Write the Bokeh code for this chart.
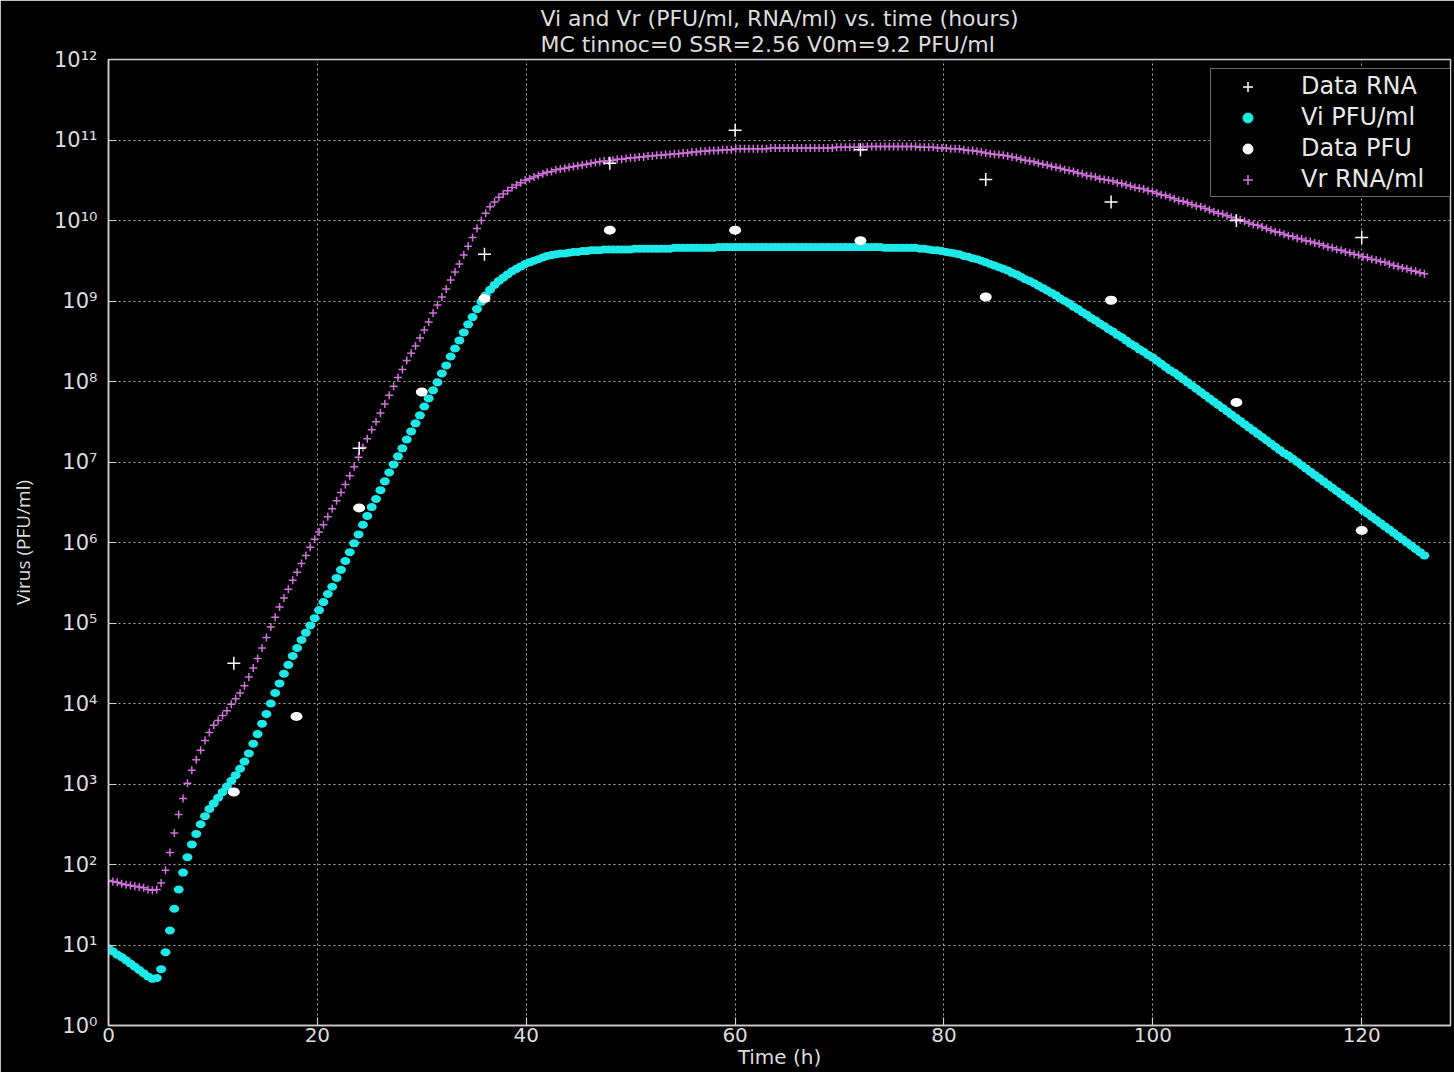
import numpy as np
from bokeh.plotting import figure
from bokeh.models import (Range1d, FixedTicker, CustomJSTickFormatter, Legend,
                          LegendItem)
from bokeh.embed import file_html
from bokeh.resources import INLINE

# ---------------- data ----------------
TITLE = "Vi and Vr (PFU/ml, RNA/ml) vs. time (hours)\nMC tinnoc=0 SSR=2.56 V0m=9.2 PFU/ml"
X_LABEL = "Time (h)"
Y_LABEL = "Virus (PFU/ml)"
X_TICKS = [0, 20, 40, 60, 80, 100, 120]
Y_TICKS = [1e0, 1e1, 1e2, 1e3, 1e4, 1e5, 1e6, 1e7, 1e8, 1e9, 1e10, 1e11, 1e12]

# model output, sampled on an even time grid from 0 to 126 h (values are log10)
T_START, T_END = 0.0, 126.0

VI_LOG10 = [
    0.96, 0.92, 0.88, 0.85, 0.81, 0.77, 0.73, 0.69, 0.65, 0.61, 0.58,
    0.59, 0.70, 0.91, 1.18, 1.45, 1.69, 1.90, 2.09, 2.25, 2.38, 2.50, 2.60, 2.69,
    2.76, 2.83, 2.90, 2.97, 3.04, 3.11, 3.19, 3.28, 3.38, 3.50, 3.62, 3.75, 3.87, 4.00,
    4.13, 4.25, 4.37, 4.48, 4.59, 4.69, 4.79, 4.88, 4.97, 5.06, 5.16, 5.26, 5.36, 5.45,
    5.56, 5.66,
    5.77, 5.88, 5.99, 6.10, 6.22, 6.33, 6.44, 6.54, 6.65, 6.76, 6.87, 6.97, 7.07, 7.17,
    7.28, 7.38, 7.48, 7.58, 7.69, 7.79, 7.89, 7.99, 8.10, 8.20, 8.31, 8.41, 8.51, 8.61,
    8.71, 8.80, 8.90, 8.99, 9.07, 9.14, 9.20, 9.25, 9.29, 9.33, 9.37, 9.40, 9.43, 9.46,
    9.48, 9.50, 9.52, 9.54, 9.56, 9.57, 9.58, 9.59, 9.59, 9.60, 9.61, 9.61, 9.62, 9.62,
    9.63, 9.63, 9.63, 9.64,
    9.64, 9.64, 9.64, 9.64, 9.64, 9.64,
    9.65, 9.65, 9.65, 9.65, 9.65, 9.65, 9.65, 9.65, 9.65,
    9.66, 9.66, 9.66, 9.66, 9.66, 9.66, 9.66, 9.66, 9.66, 9.66,
    9.67, 9.67, 9.67, 9.67, 9.67, 9.67, 9.67, 9.67, 9.67, 9.67,
    9.67, 9.67, 9.67, 9.67, 9.67, 9.67, 9.67, 9.67, 9.67, 9.67,
    9.67, 9.67, 9.67, 9.67, 9.67, 9.67, 9.67, 9.67, 9.67, 9.67,
    9.67, 9.67, 9.67, 9.67, 9.67, 9.67, 9.67, 9.67,
    9.66, 9.66, 9.66, 9.66, 9.66, 9.66, 9.66, 9.66,
    9.65, 9.65, 9.64, 9.63, 9.63, 9.62, 9.61, 9.60, 9.59, 9.58, 9.56, 9.55, 9.53, 9.52,
    9.50, 9.48, 9.46, 9.44, 9.42, 9.40, 9.38, 9.35, 9.33, 9.30, 9.27, 9.25, 9.22, 9.19,
    9.16, 9.13, 9.10, 9.07, 9.03, 9.00, 8.97, 8.93, 8.90, 8.86, 8.83, 8.79, 8.76, 8.72,
    8.69, 8.65, 8.62, 8.58, 8.55, 8.51, 8.47, 8.44, 8.40, 8.37, 8.33, 8.30,
    8.26, 8.22, 8.18, 8.14, 8.11, 8.07, 8.03, 7.99, 7.95, 7.91, 7.87, 7.83, 7.79, 7.75,
    7.71, 7.67, 7.63, 7.59, 7.55, 7.51, 7.47, 7.43, 7.39, 7.35, 7.31, 7.27, 7.23, 7.19,
    7.15, 7.11, 7.08, 7.04, 7.00, 6.96, 6.92, 6.88, 6.84, 6.80, 6.76, 6.72, 6.68, 6.64,
    6.60, 6.56, 6.52, 6.48, 6.44, 6.40, 6.36, 6.32, 6.28, 6.24, 6.20, 6.16, 6.12, 6.08,
    6.04, 6.00, 5.96, 5.92, 5.88, 5.84,
]

VR_LOG10 = [
    1.80, 1.79, 1.78, 1.76, 1.75, 1.74, 1.73, 1.72, 1.71, 1.69, 1.68,
    1.69, 1.77, 1.93, 2.15, 2.39, 2.62, 2.82, 3.01, 3.17, 3.30, 3.42, 3.54, 3.64,
    3.73, 3.79, 3.85, 3.91, 3.99, 4.06, 4.13, 4.22, 4.33, 4.44, 4.56, 4.69, 4.82, 4.95,
    5.07, 5.20, 5.31, 5.42, 5.53, 5.63, 5.74, 5.84, 5.94, 6.04, 6.13, 6.22, 6.32, 6.42,
    6.52, 6.62,
    6.72, 6.83, 6.94, 7.06, 7.18, 7.29, 7.40, 7.50, 7.61, 7.72, 7.83, 7.94, 8.05, 8.15,
    8.26, 8.35, 8.44, 8.54, 8.64, 8.74, 8.85, 8.95, 9.05, 9.15, 9.26, 9.36, 9.46, 9.57,
    9.68, 9.79, 9.90, 10.00, 10.09, 10.17, 10.23, 10.29, 10.33, 10.37, 10.41, 10.44,
    10.47, 10.50,
    10.52, 10.54, 10.56, 10.58, 10.60, 10.61, 10.63, 10.64, 10.65, 10.66, 10.67, 10.68,
    10.69, 10.70, 10.71, 10.72, 10.73, 10.74, 10.74, 10.75, 10.76, 10.76, 10.77, 10.78,
    10.78, 10.79, 10.79, 10.80, 10.80, 10.81, 10.81, 10.82, 10.82, 10.83, 10.83, 10.84,
    10.84, 10.85, 10.85, 10.86, 10.86, 10.87, 10.87, 10.87, 10.88, 10.88, 10.88, 10.89,
    10.89, 10.89, 10.89, 10.89, 10.89, 10.89, 10.89,
    10.90, 10.90, 10.90, 10.90, 10.90, 10.90, 10.90, 10.90, 10.90, 10.90, 10.90, 10.90,
    10.90, 10.90, 10.90,
    10.91, 10.91, 10.91, 10.91, 10.91, 10.91, 10.91,
    10.92, 10.92, 10.92, 10.92, 10.92, 10.92, 10.92, 10.92, 10.92, 10.92, 10.92, 10.92,
    10.91, 10.91, 10.91, 10.91, 10.90, 10.90, 10.90, 10.89, 10.89, 10.89, 10.88, 10.87,
    10.87, 10.86, 10.85, 10.84, 10.83, 10.82, 10.82, 10.81, 10.80, 10.79, 10.78, 10.76,
    10.75, 10.74, 10.73, 10.71, 10.70, 10.69, 10.67, 10.66, 10.65, 10.63, 10.62, 10.61,
    10.59, 10.58, 10.56, 10.55, 10.54, 10.52, 10.51, 10.50, 10.49, 10.47, 10.46, 10.44,
    10.43, 10.41, 10.40, 10.39, 10.37, 10.36,
    10.34, 10.32, 10.31, 10.29, 10.27, 10.25, 10.24, 10.22, 10.20, 10.18, 10.17, 10.15,
    10.13, 10.11, 10.09, 10.08, 10.06, 10.04, 10.02, 10.01, 9.99, 9.97, 9.95, 9.94,
    9.92, 9.90, 9.88, 9.86, 9.85, 9.83, 9.81, 9.80, 9.78, 9.77, 9.75, 9.74, 9.72, 9.71,
    9.69, 9.67, 9.66, 9.64, 9.63, 9.61, 9.60, 9.58, 9.57, 9.55, 9.54, 9.52, 9.51, 9.49,
    9.48, 9.46, 9.44, 9.43, 9.41, 9.40, 9.38, 9.37, 9.35, 9.34,
]

DATA_RNA_T = [12, 24, 36, 48, 60, 72, 84, 96, 108, 120]
DATA_RNA_LOG10 = [4.50, 7.17, 9.58, 10.71, 11.12, 10.88, 10.51, 10.23, 10.00, 9.79]

DATA_PFU_T = [12, 18, 24, 30, 36, 48, 60, 72, 84, 96, 108, 120]
DATA_PFU_LOG10 = [2.90, 3.84, 6.43, 7.87, 9.03, 9.88, 9.88, 9.75, 9.05, 9.01, 7.74, 6.15]

LEGEND_LABELS = ["Data RNA", "Vi PFU/ml", "Data PFU", "Vr RNA/ml"]

# ---------------- derived arrays ----------------
vi_t = np.linspace(T_START, T_END, len(VI_LOG10))
vr_t = np.linspace(T_START, T_END, len(VR_LOG10))
vi = 10.0 ** np.array(VI_LOG10)
vr = 10.0 ** np.array(VR_LOG10)
rna = 10.0 ** np.array(DATA_RNA_LOG10)
pfu = 10.0 ** np.array(DATA_PFU_LOG10)

# ---------------- styling ----------------
FG = "#dcdcdc"
SPINE = "#cfcfcf"
CYAN = "#1de9e9"
VIOLET = "#d070dc"
FONT = "DejaVu Sans"

p = figure(width=1454, height=1072, y_axis_type="log",
           x_range=Range1d(0, 128.5), y_range=Range1d(1, 1e12),
           output_backend="svg", toolbar_location=None,
           background_fill_color="black", border_fill_color="black",
           min_border_left=108, min_border_right=4, min_border_top=59,
           min_border_bottom=47)

p.title.text = TITLE
p.title.align = "center"
p.title.text_font = FONT
p.title.text_font_size = "22px"
p.title.text_font_style = "normal"
p.title.text_color = FG
p.title.text_line_height = 1.05
p.title.standoff = 5
p.title.offset = 0

p.outline_line_color = SPINE
p.outline_line_width = 1.5

xt = FixedTicker(ticks=X_TICKS)
yt = FixedTicker(ticks=Y_TICKS)

sup_fmt = CustomJSTickFormatter(code="""
const sup = {"0":"\u2070","1":"\u00b9","2":"\u00b2","3":"\u00b3","4":"\u2074",
             "5":"\u2075","6":"\u2076","7":"\u2077","8":"\u2078","9":"\u2079","-":"\u207b"};
const e = Math.round(Math.log10(tick));
return "10" + String(e).split("").map(c => sup[c]).join("");
""")

for ax in list(p.xaxis) + list(p.yaxis):
    ax.axis_line_color = SPINE
    ax.axis_line_width = 1.5
    ax.major_tick_line_color = SPINE
    ax.major_tick_line_width = 1.2
    ax.major_tick_in = 8
    ax.major_tick_out = 0
    ax.minor_tick_line_color = None
    ax.major_label_text_color = FG
    ax.major_label_text_font = FONT
    ax.axis_label_text_color = FG
    ax.axis_label_text_font_style = "normal"

for ax in p.xaxis:
    ax.ticker = xt
    ax.axis_label = X_LABEL
    ax.axis_label_text_font = FONT
    ax.axis_label_text_font_size = "20px"
    ax.major_label_text_font_size = "20px"
    ax.major_label_standoff = 2
    ax.axis_label_standoff = 0

for ax in p.yaxis:
    ax.ticker = yt
    ax.formatter = sup_fmt
    ax.axis_label = Y_LABEL
    ax.axis_label_text_font = "Open Sans"
    ax.axis_label_text_font_size = "19px"
    ax.major_label_text_font_size = "21px"
    ax.major_label_standoff = 11
    ax.axis_label_standoff = 15

p.xgrid.ticker = xt
p.ygrid.ticker = yt
for g in (p.xgrid[0], p.ygrid[0]):
    g.grid_line_color = "#c8c8c8"
    g.grid_line_dash = "2 3"
    g.grid_line_width = 1
    g.grid_line_alpha = 0.85

# ---------------- glyphs ----------------
# model curves (the reference markers are slightly wider than tall)
p.ellipse(x=vi_t, y=vi, width=10, height=8, width_units="screen",
          height_units="screen", fill_color=CYAN, line_color=None)
r_vr = p.scatter(vr_t, vr, marker="cross", size=8, line_color=VIOLET,
                 line_width=1.5)
p.ellipse(x=DATA_PFU_T, y=pfu, width=12, height=9, width_units="screen",
          height_units="screen", fill_color="white", line_color=None)
r_rna = p.scatter(DATA_RNA_T, rna, marker="cross", size=13, line_color="white",
                  line_width=1.5)

# legend swatches (hidden renderers that only feed the legend)
r_vi_key = p.scatter(vi_t, vi, marker="circle", fill_color=CYAN,
                     line_color=CYAN, visible=False)
r_pfu_key = p.scatter(DATA_PFU_T, pfu, marker="circle", fill_color="white",
                      line_color="white", visible=False)

legend = Legend(items=[
    LegendItem(label=LEGEND_LABELS[0], renderers=[r_rna]),
    LegendItem(label=LEGEND_LABELS[1], renderers=[r_vi_key]),
    LegendItem(label=LEGEND_LABELS[2], renderers=[r_pfu_key]),
    LegendItem(label=LEGEND_LABELS[3], renderers=[r_vr]),
], location=(1102, 828))
legend.background_fill_color = "black"
legend.background_fill_alpha = 1.0
legend.border_line_color = SPINE
legend.border_line_width = 1.5
legend.label_text_color = "#e8e8e8"
legend.label_text_font = FONT
legend.label_text_font_size = "24px"
legend.glyph_width = 67
legend.glyph_height = 25
legend.label_height = 25
legend.label_width = 147
legend.spacing = 3
legend.padding = 3
legend.margin = 0
legend.label_standoff = 20
legend.inactive_fill_alpha = 0.0
p.add_layout(legend)

open("out.html", "w").write(file_html(p, INLINE))
